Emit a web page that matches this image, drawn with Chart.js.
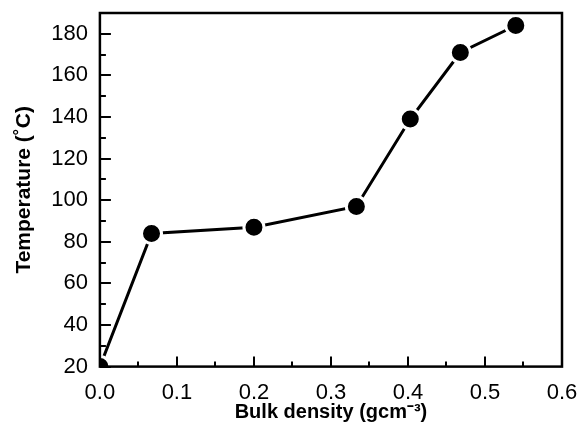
<!DOCTYPE html>
<html lang="en">
<head>
<meta charset="UTF-8" />
<title>Temperature vs bulk density</title>
<script src="https://cdn.jsdelivr.net/npm/chart.js"></script>
<style>
  html, body { margin: 0; padding: 0; background: #fff; }
  #wrap { width: 579px; height: 429px; }
</style>
</head>
<body>
<div id="wrap"><canvas id="chart" width="579" height="429"></canvas></div>
<script>
// values
const density = [0.0, 0.067, 0.2, 0.333, 0.403, 0.468, 0.54];
const temperature = [20, 84, 87, 97, 139, 171, 184];
const xTitle = "Bulk density (gcm\u207B\u00B3)";
const yTitle = "Temperature (\u02DAC)";

// inward major/minor ticks and a closed frame, Origin style
const frameTicks = {
  id: "frameTicks",
  afterDatasetsDraw(chart) {
    const { ctx, chartArea: a, scales } = chart;
    ctx.save();
    ctx.strokeStyle = "#000";
    ctx.lineWidth = 2;
    const x = scales.x, y = scales.y;
    for (let i = 0; i <= 12; i++) {
      const v = i * 0.05;
      const px = Math.round(x.getPixelForValue(v));
      const len = i % 2 === 0 ? 10 : 5;
      ctx.beginPath();
      ctx.moveTo(px, a.bottom);
      ctx.lineTo(px, a.bottom - len);
      ctx.stroke();
    }
    for (let v = 20; v <= 190; v += 10) {
      const py = Math.round(y.getPixelForValue(v));
      const len = v % 20 === 0 ? 11 : 6;
      ctx.beginPath();
      ctx.moveTo(a.left, py);
      ctx.lineTo(a.left + len, py);
      ctx.stroke();
    }
    ctx.lineWidth = 2.5;
    ctx.strokeRect(a.left, a.top, a.right - a.left, a.bottom - a.top);
    ctx.restore();
  }
};

// drop the half-label room Chart.js keeps at the axis ends
const noEdgePad = scale => {
  scale.paddingTop = 0;
  scale.paddingBottom = 0;
  scale.paddingLeft = 0;
  scale.paddingRight = 0;
};

new Chart(document.getElementById("chart"), {
  type: "line",
  data: {
    datasets: [{
      data: density.map((d, i) => ({ x: d, y: temperature[i] })),
      borderColor: "#000",
      borderWidth: 3,
      backgroundColor: "#000",
      pointRadius: 10,
      pointBorderWidth: 3,
      pointBorderColor: "#fff",
      pointBackgroundColor: "#000",
      tension: 0,
      clip: 0
    }]
  },
  options: {
    responsive: false,
    animation: false,
    layout: { padding: { top: 13, right: 17, left: 12, bottom: 0 } },
    plugins: { legend: { display: false }, tooltip: { enabled: false } },
    scales: {
      x: {
        type: "linear",
        min: 0,
        max: 0.6,
        afterFit: noEdgePad,
        grid: { display: false, drawTicks: false },
        border: { display: false },
        ticks: {
          stepSize: 0.1,
          padding: 13,
          color: "#000",
          font: { family: "Liberation Sans", size: 22 },
          callback: v => v.toFixed(1)
        },
        title: {
          display: true,
          text: xTitle,
          color: "#000",
          padding: { top: -19, bottom: 5 },
          font: { family: "Liberation Sans", size: 20, weight: "bold" }
        }
      },
      y: {
        min: 20,
        max: 190,
        afterFit: noEdgePad,
        grid: { display: false, drawTicks: false },
        border: { display: false },
        ticks: {
          stepSize: 20,
          includeBounds: false,
          padding: 12,
          color: "#000",
          font: { family: "Liberation Sans", size: 22 }
        },
        title: {
          display: true,
          text: yTitle,
          color: "#000",
          padding: { top: 0, bottom: 2 },
          font: { family: "Liberation Sans", size: 21, weight: "bold" }
        }
      }
    }
  },
  plugins: [frameTicks]
});
</script>
</body>
</html>
